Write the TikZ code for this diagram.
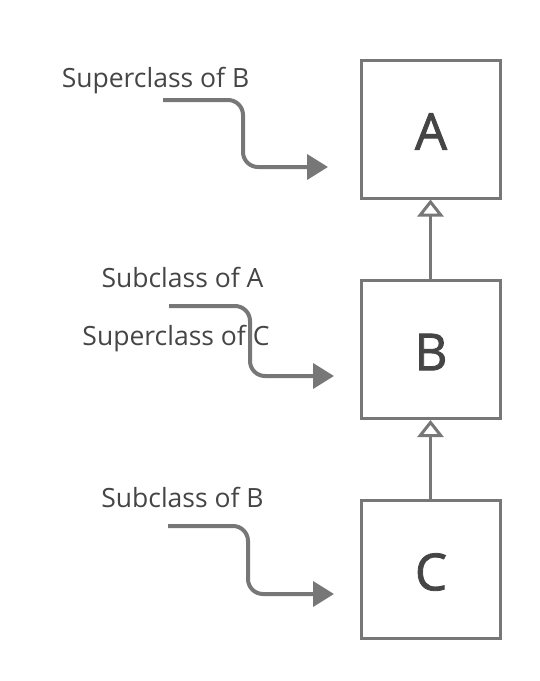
\documentclass[tikz,border=0pt]{standalone}
\usepackage{fontspec}
\setmainfont{Open Sans}
\newfontfamily\letterfont{Open Sans}[FakeBold=1.6]
\usetikzlibrary{arrows.meta}
\definecolor{linegray}{HTML}{777777}
\definecolor{textgray}{HTML}{454545}
\begin{document}
\begin{tikzpicture}[x=1pt,y=-1pt,
  classbox/.style={draw=linegray,line width=3pt,minimum width=139pt,minimum height=138pt,inner sep=0pt},
  letter/.style={inner sep=0pt,font=\letterfont\fontsize{51}{55}\selectfont,text=textgray},
  lbl/.style={anchor=base,inner sep=0pt,font=\fontsize{26.5}{30}\selectfont,text=textgray},
  pointer/.style={draw=linegray,line width=4pt,rounded corners=15pt,
    -{Triangle[length=21pt,width=25pt]},fill=none},
  inherit/.style={draw=linegray,line width=3pt,-{Triangle[open,length=17pt,width=26pt,fill=white]}}]
\useasboundingbox (0,0) rectangle (540,681);
\node[classbox] (A) at (430.5,129) {};
\node[classbox] (B) at (430.5,349.5) {};
\node[classbox] (C) at (430.5,569.5) {};
\node[letter] (tA) at (431,131.5) {A};
\node[letter] (tB) at (431,352) {B};
\node[letter] (tC) at (431,572) {C};
\draw[inherit] (B.north) -- (A.south);
\draw[inherit] (C.north) -- (B.south);
\node[lbl] (l1) at (155.5,87) {Superclass of B};
\node[lbl] (l2) at (182.5,287) {Subclass of A};
\node[lbl] (l3) at (176,345) {Superclass of C};
\node[lbl] (l4) at (182.5,507) {Subclass of B};
\coordinate (s1) at (163,100); \coordinate (t1) at (328,167);
\coordinate (s2) at (169,306); \coordinate (t2) at (334,376);
\coordinate (s3) at (168,526); \coordinate (t3) at (334,594);
\draw[pointer] (s1) -- (243,100) -- (243,167) -- (t1);
\draw[pointer] (s2) -- (250,306) -- (250,376) -- (t2);
\draw[pointer] (s3) -- (248,526) -- (248,594) -- (t3);
\end{tikzpicture}
\end{document}
